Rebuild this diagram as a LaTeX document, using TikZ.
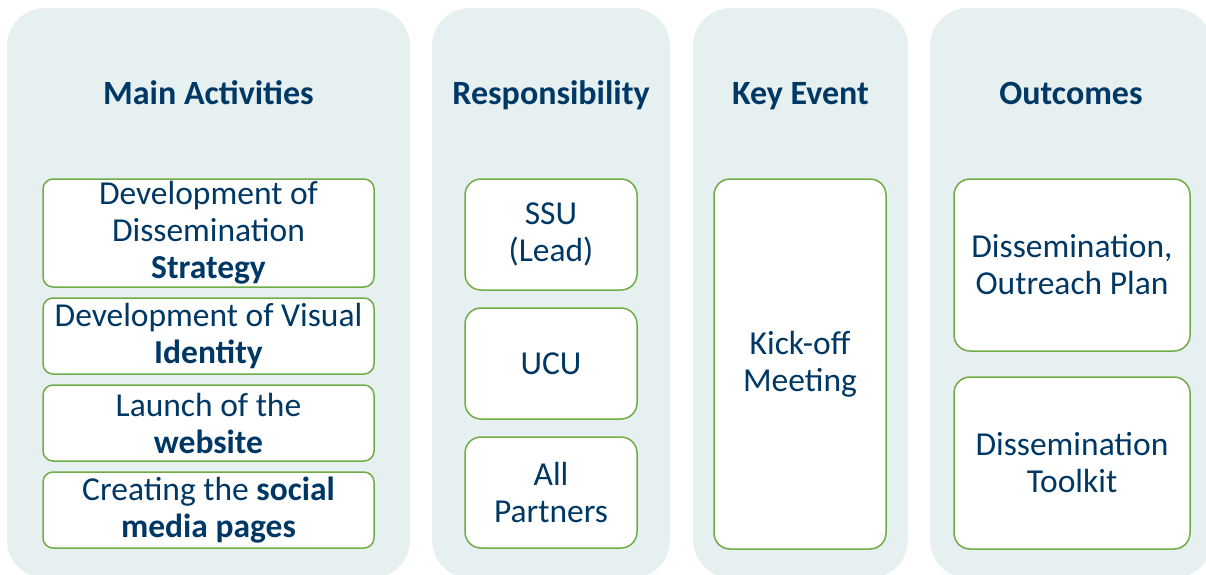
\documentclass[tikz,border=0pt]{standalone}
\usepackage{fontspec}
\setmainfont{Carlito}
\usetikzlibrary{positioning}
\definecolor{panelfill}{RGB}{230,240,241}
\definecolor{boxgreen}{RGB}{112,173,71}
\definecolor{textblue}{RGB}{0,56,101}

\begin{document}
\begin{tikzpicture}[x=1pt, y=-1pt,
		panel/.style={fill=panelfill, rounded corners=38pt, minimum height=570pt, inner sep=0pt},
		head/.style={text=textblue, font=\fontsize{34}{37}\selectfont\bfseries, anchor=base},
		item/.style={draw=boxgreen, line width=1.5pt, fill=white, rounded corners=16pt, align=center, text=textblue, font=\fontsize{33.5}{37}\selectfont, inner sep=0pt}]
				\useasboundingbox (0,0) rectangle (1206,574);
				\node[panel, minimum width=403pt] (p1) at (208.5,293) {};
				\node[panel, minimum width=238pt] (p2) at (551,293) {};
				\node[panel, minimum width=215pt] (p3) at (800.5,293) {};
				\node[panel, minimum width=282pt] (p4) at (1071,293) {};
				
				\node[head] (h1) at (208.5,104) {Main Activities};
				\node[head] (h2) at (551,104) {Responsibility};
				\node[head] (h3) at (800.5,104) {Key Event};
				\node[head] (h4) at (1071,104) {Outcomes};
				
				\node[item, rounded corners=10pt, minimum width=331pt, minimum height=108pt] (a1) at (208.5,233) {Development of\\Dissemination\\\textbf{Strategy}};
				\node[item, rounded corners=10pt, minimum width=331pt, minimum height=76pt, below=9.5pt of a1] (a2) {Development of Visual\\\textbf{Identity}};
				\node[item, rounded corners=10pt, minimum width=331pt, minimum height=76pt, below=9.5pt of a2] (a3) {Launch of the\\\textbf{website}};
				\node[item, rounded corners=10pt, minimum width=331pt, minimum height=76pt, below=9.5pt of a3] (a4) {Creating the \textbf{social}\\\textbf{media pages}};
				
				\node[item, minimum width=172pt, minimum height=111pt] (b1) at (551,234.5) {SSU\\(Lead)};
				\node[item, minimum width=172pt, minimum height=111pt, below=16.5pt of b1] (b2) {UCU};
				\node[item, minimum width=172pt, minimum height=111pt, below=16.5pt of b2] (b3) {All\\Partners};
				
				\node[item, minimum width=172pt, minimum height=370pt] (c1) at (800,364) {Kick-off\\Meeting};
				
				\node[item, minimum width=236pt, minimum height=172pt] (d1) at (1072,265) {Dissemination,\\Outreach Plan};
				\node[item, minimum width=236pt, minimum height=172pt, below=24.5pt of d1] (d2) {Dissemination\\Toolkit};
				\end{tikzpicture}
\end{document}
